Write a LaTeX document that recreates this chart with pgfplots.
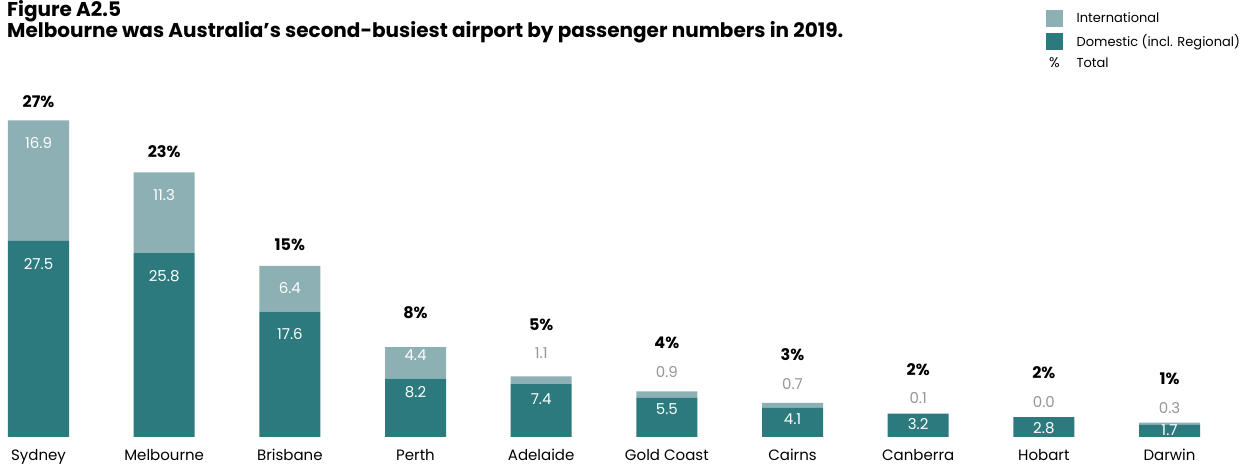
\documentclass[border=0pt]{standalone}
\usepackage{fontspec}
\setmainfont{Poppins}
\usepackage{pgfplots}
\usepackage{pgfplotstable}
\pgfplotsset{compat=1.18}
\definecolor{intl}{RGB}{141,176,180}
\definecolor{dom}{RGB}{44,122,126}
\definecolor{lab}{RGB}{150,150,150}

\pgfplotstableread{
x dom intl
0 27.5 16.9
1 25.8 11.3
2 17.6 6.4
3 8.2 4.4
4 7.4 1.1
5 5.5 0.9
6 4.1 0.7
7 3.2 0.1
8 2.8 0.0
9 1.7 0.3
}\passengers

\pgfplotstableread{
x y lab
0 24.3 27.5
1 22.6 25.8
2 14.4 17.6
3 6.3 8.2
4 5.3 7.4
5 3.9 5.5
6 2.5 4.1
7 1.8 3.2
8 1.3 2.8
9 1.0 1.7
}\domlab

\pgfplotstableread{
x y lab
0 41.2 16.9
1 33.9 11.3
2 20.9 6.4
3 11.5 4.4
}\intin

\pgfplotstableread{
x y lab
4 11.8 1.1
5 9.1 0.9
6 7.4 0.7
7 5.5 0.1
8 4.9 0.0
9 4.1 0.3
}\intout

\pgfplotstableread{
x y lab
0 47.0 27
1 40.0 23
2 26.9 15
3 17.4 8
4 15.8 5
5 13.2 4
6 11.5 3
7 9.5 2
8 9.0 2
9 8.1 1
}\pct

\pgfplotsset{base/.style={
  x=125.67pt, y=7.13pt,
  xmin=-0.3, xmax=9.5, ymin=0, ymax=50,
  at={(0.799pt,29pt)}, anchor=south west,
  clip=false, axis line style={draw=none},
  major tick length=0pt, ytick=\empty,
}}
\pgfplotsset{lbl/.style={only marks, mark=*, mark size=0pt,
  mark options={draw=none, fill=none},
  nodes near coords, point meta=explicit symbolic,
  nodes near coords align=center, forget plot}}

\begin{document}
\begin{tikzpicture}
\path[use as bounding box] (0pt,0pt) rectangle (1251pt,466pt);
\node[anchor=base west, inner sep=0pt, font=\fontsize{20}{20}\selectfont\bfseries] at (7pt,449pt) {Figure A2.5};
\node[anchor=base west, inner sep=0pt, font=\fontsize{20}{20}\selectfont\bfseries] at (7pt,428pt) {Melbourne was Australia’s second-busiest airport by passenger numbers in 2019.};

\begin{axis}[base, ybar stacked, bar width=61pt,
  xtick={0,...,9},
  xticklabels={Sydney,Melbourne,Brisbane,Perth,Adelaide,Gold Coast,Cairns,Canberra,Hobart,Darwin},
  xticklabel style={font=\fontsize{15}{15}\selectfont, anchor=base, yshift=-24pt, inner sep=0pt},
]
\addplot[fill=dom, draw=none] table[x=x,y=dom]{\passengers};
\addplot[fill=intl, draw=none] table[x=x,y=intl]{\passengers};
\end{axis}

\begin{axis}[base, xtick=\empty,
  legend style={at={(axis cs:8.017,59.9)}, anchor=north west, draw=none, fill=none,
    font=\fontsize{13}{13}\selectfont, inner sep=0pt, row sep=6pt, column sep=12pt},
  legend cell align=left,
]
\addlegendimage{legend image code/.code={\fill[intl] (0pt,-8pt) rectangle (16pt,7.5pt);}}
\addlegendentry{International}
\addlegendimage{legend image code/.code={\fill[dom] (0pt,-8pt) rectangle (16pt,7.5pt);}}
\addlegendentry{Domestic (incl. Regional)}
\addlegendimage{legend image code/.code={\node[anchor=base, inner sep=0pt, font=\fontsize{14}{14}\selectfont] at (8pt,-4.5pt) {\%};}}
\addlegendentry{Total}

\addplot[lbl, every node near coord/.append style={font=\fontsize{15}{15}\selectfont, text=white}] table[x=x,y=y,meta=lab]{\domlab};
\addplot[lbl, every node near coord/.append style={font=\fontsize{15}{15}\selectfont, text=white}] table[x=x,y=y,meta=lab]{\intin};
\addplot[lbl, every node near coord/.append style={font=\fontsize{15}{15}\selectfont, text=lab}] table[x=x,y=y,meta=lab]{\intout};
\addplot[lbl, nodes near coords={\pgfplotspointmeta\%}, every node near coord/.append style={font=\fontsize{16}{16}\selectfont\bfseries, text=black}] table[x=x,y=y,meta=lab]{\pct};
\end{axis}
\end{tikzpicture}
\end{document}
